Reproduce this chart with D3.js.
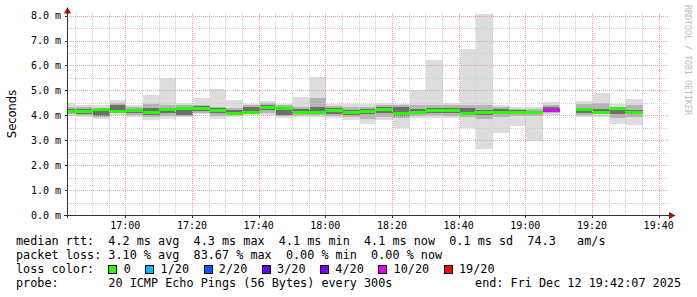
<!DOCTYPE html>
<html><head><meta charset="utf-8">
<script src="https://cdn.jsdelivr.net/npm/d3@7"></script>
<style>
html,body{margin:0;padding:0;background:#fff;}
svg{display:block;}
text{font-family:"DejaVu Sans Mono",monospace;}
</style></head>
<body>
<script>
// ---- data (milliseconds) ----
const binStart = ["16:40","16:45","16:50","16:55","17:00","17:05","17:10","17:15","17:20","17:25","17:30","17:35","17:40","17:45","17:50","17:55","18:00","18:05","18:10","18:15","18:20","18:25","18:30","18:35","18:40","18:45","18:50","18:55","19:00","19:05","19:10","19:15","19:20","19:25","19:30"];
const minV   = [3.98,3.93,3.86,4.00,3.93,3.80,3.84,3.93,4.05,3.87,3.93,4.00,4.02,3.90,3.95,3.95,3.90,3.80,3.66,3.82,3.48,3.88,3.90,3.88,3.48,2.65,3.30,3.57,2.98,4.00,null,3.95,3.92,3.65,3.61];
const maxV   = [4.48,4.40,4.40,4.62,4.40,4.82,5.48,4.48,4.68,5.06,4.62,4.45,4.56,4.45,4.75,5.52,4.45,4.45,4.44,4.48,4.45,5.02,6.20,4.48,6.68,8.05,4.40,4.32,4.32,4.55,null,4.58,4.90,4.44,4.66];
const midLo  = [4.05,4.00,3.93,4.08,4.00,3.93,3.98,3.97,4.10,3.98,4.00,4.05,4.08,3.98,4.02,4.02,3.97,3.92,3.85,3.95,3.90,3.97,4.00,3.98,3.92,3.85,3.95,3.98,3.98,4.08,null,4.02,4.05,3.90,3.92];
const midHi  = [4.33,4.32,4.30,4.50,4.32,4.45,4.40,4.40,4.42,4.35,4.30,4.40,4.48,4.42,4.32,4.70,4.38,4.35,4.35,4.42,4.42,4.40,4.40,4.40,4.40,4.40,4.35,4.25,4.25,4.42,null,4.45,4.50,4.35,4.40];
const darkLo = [4.10,4.05,3.98,4.12,4.08,4.02,4.08,4.00,4.18,4.10,4.05,4.08,4.20,4.03,4.08,4.08,4.05,4.02,4.05,4.10,3.98,4.05,4.08,4.08,4.02,4.02,4.05,4.05,4.05,4.12,null,4.08,4.10,4.05,4.05];
const darkHi = [4.25,4.25,4.20,4.40,4.25,4.30,4.30,4.25,4.36,4.28,4.22,4.35,4.42,4.30,4.25,4.32,4.28,4.22,4.25,4.35,4.35,4.25,4.28,4.28,4.30,4.22,4.25,4.20,4.18,4.32,null,4.28,4.25,4.28,4.22];
const median = [4.16,4.17,4.24,4.17,4.20,4.12,4.22,4.27,4.29,4.21,4.08,4.13,4.33,4.28,4.12,4.12,4.21,4.10,4.15,4.22,4.06,4.12,4.19,4.18,4.08,4.10,4.12,4.11,4.11,4.20,null,4.22,4.13,4.27,4.12];
const lossPings = [0,0,0,0,0,0,0,0,0,0,0,0,0,0,0,0,0,0,0,0,0,0,0,0,0,0,0,0,0,16.7,null,0,0,0,0];

const lossThresh = [0,1,2,3,4,10,19];
const lossLabels = ["0","1/20","2/20","3/20","4/20","10/20","19/20"];
const lossColors = ["#26ff00","#00b8ff","#0059ff","#5e00ff","#7e00ff","#dd00ff","#ff0000"];

const yTickVals = [0,1,2,3,4,5,6,7,8];
const legendLines = [
  "median rtt:  4.2 ms avg  4.3 ms max  4.1 ms min  4.1 ms now  0.1 ms sd  74.3   am/s",
  "packet loss: 3.10 % avg  83.67 % max  0.00 % min  0.00 % now"
];
const probeText = "probe:       20 ICMP Echo Pings (56 Bytes) every 300s";
const endText = "end: Fri Dec 12 19:42:07 2025";

// ---- layout ----
const W = 697, H = 297;
const L = 67, R = 667, T = 13, B = 215;
const day = [2025,11,12];
const tp = s => { const [h,m] = s.split(":").map(Number); return new Date(day[0],day[1],day[2],h,m,0); };
const t0 = new Date(2025,11,12,16,42,30), t1 = new Date(2025,11,12,19,42,30);

const x = d3.scaleTime().domain([t0,t1]).range([L,R]);
const y = d3.scaleLinear().domain([0,(B-T)/24.92]).range([B,T]);

const svg = d3.select("body").append("svg").attr("width",W).attr("height",H);
svg.append("rect").attr("width",W).attr("height",H).attr("fill","#fff");

svg.append("clipPath").attr("id","pc").append("rect")
  .attr("x",L).attr("y",T).attr("width",R-L).attr("height",B-T);

const bins = binStart.map((s,i)=>({s:tp(s), e:new Date(tp(s).getTime()+300000), i}))
  .filter(d=>median[d.i]!==null);

const g = svg.append("g").attr("clip-path","url(#pc)");
const bands = [[minV,maxV,"#dddddd"],[midLo,midHi,"#b4b4b4"],[darkLo,darkHi,"#6e6e6e"]];
bands.forEach(([lo,hi,c])=>{
  g.selectAll(null).data(bins).join("rect")
    .attr("x",d=>x(d.s)+1).attr("width",d=>x(d.e)-x(d.s))
    .attr("y",d=>y(hi[d.i])).attr("height",d=>y(lo[d.i])-y(hi[d.i]))
    .attr("fill",c).attr("shape-rendering","crispEdges");
});

// grid
const gg = svg.append("g").attr("shape-rendering","crispEdges");
const minorX = d3.timeMinute.every(5).range(t0,t1);
minorX.forEach(t=>{
  const major = t.getMinutes()%20===0;
  const xx = Math.round(x(t))+0.5;
  gg.append("line").attr("x1",xx).attr("x2",xx).attr("y1",T).attr("y2",B)
    .attr("stroke",major?"#eaa0a0":"#cfcfcf").attr("stroke-dasharray","1,1");
});
d3.range(0,8.01,0.5).forEach(v=>{
  const major = Math.abs(v-Math.round(v))<1e-6;
  const yy = Math.round(y(v))+0.5;
  if (v===0) return;
  gg.append("line").attr("x1",L).attr("x2",R+1).attr("y1",yy).attr("y2",yy)
    .attr("stroke",major?"#eaa0a0":"#cfcfcf").attr("stroke-dasharray","1,1");
});

// median
const gm = svg.append("g").attr("clip-path","url(#pc)");
const lossColor = l => { let c = lossColors[0]; lossThresh.forEach((t,k)=>{ if (l>=t) c = lossColors[k]; }); return c; };
gm.selectAll(null).data(bins).join("rect")
  .attr("x",d=>x(d.s)+1).attr("width",d=>x(d.e)-x(d.s))
  .attr("y",d=>y(median[d.i])-1.5).attr("height",3)
  .attr("fill",d=>lossColor(lossPings[d.i])).attr("shape-rendering","crispEdges");

// axes
const ax = svg.append("g").attr("shape-rendering","crispEdges");
ax.append("line").attr("x1",L+0.5).attr("x2",L+0.5).attr("y1",B+3).attr("y2",10).attr("stroke","#333");
ax.append("line").attr("x1",L-3).attr("x2",670).attr("y1",B+0.5).attr("y2",B+0.5).attr("stroke","#333");
svg.append("path").attr("d",`M${L+0.5-3.5},${13.5} L${L+0.5+3.5},${13.5} L${L+0.5},${7} Z`).attr("fill","#9b1111");
svg.append("path").attr("d",`M669,${B+0.5-3.5} L669,${B+0.5+3.5} L675.5,${B+0.5} Z`).attr("fill","#9b1111");

// y labels
yTickVals.forEach(v=>{
  svg.append("text").attr("x",61).attr("y",y(v)+3.5).attr("text-anchor","end")
    .attr("font-size","10px").attr("fill","#000").text(d3.format(".1f")(v)+" m");
  ax.append("line").attr("x1",L-2).attr("x2",L).attr("y1",Math.round(y(v))+0.5).attr("y2",Math.round(y(v))+0.5).attr("stroke","#333");
});
// x labels
d3.timeMinute.every(20).range(t0,t1).forEach(t=>{
  svg.append("text").attr("x",x(t)).attr("y",228.5).attr("text-anchor","middle")
    .attr("font-size","10px").attr("fill","#000").text(d3.timeFormat("%H:%M")(t));
  ax.append("line").attr("x1",Math.round(x(t))+0.5).attr("x2",Math.round(x(t))+0.5).attr("y1",B).attr("y2",B+3).attr("stroke","#333");
});

svg.append("text").attr("transform","translate(15.5,114) rotate(-90)").attr("text-anchor","middle")
  .style("font-family","'DejaVu Sans',sans-serif").attr("font-size","11.5px").attr("fill","#000").text("Seconds");
svg.append("text").attr("transform","translate(684.5,5) rotate(90)")
  .attr("font-size","8.3px").attr("fill","#bdbdbd").text("RRDTOOL / TOBI OETIKER");

// legend
const fs = 11.8, cw = fs*0.6021, lx = 16;
const base = [245,259,273,287];
legendLines.forEach((s,k)=>{
  svg.append("text").attr("x",lx).attr("y",base[k]).attr("font-size",fs+"px")
    .attr("xml:space","preserve").style("white-space","pre").text(s);
});
svg.append("text").attr("x",lx).attr("y",base[2]).attr("font-size",fs+"px").text("loss color:");
let col = 13;
lossLabels.forEach((lab,k)=>{
  svg.append("rect").attr("x",Math.round(lx+col*cw)+0.5).attr("y",265.5).attr("width",8).attr("height",8)
    .attr("fill",lossColors[k]).attr("stroke","#000").attr("stroke-width",1).attr("shape-rendering","crispEdges");
  svg.append("text").attr("x",lx+(col+2.15)*cw).attr("y",base[2]).attr("font-size",fs+"px").text(lab);
  col += 2.2 + lab.length + 2;
});
svg.append("text").attr("x",lx).attr("y",base[3]).attr("font-size",fs+"px")
  .attr("xml:space","preserve").style("white-space","pre").text(probeText);
svg.append("text").attr("x",681).attr("y",base[3]).attr("text-anchor","end").attr("font-size",fs+"px")
  .style("white-space","pre").text(endText);
</script>
</body></html>
